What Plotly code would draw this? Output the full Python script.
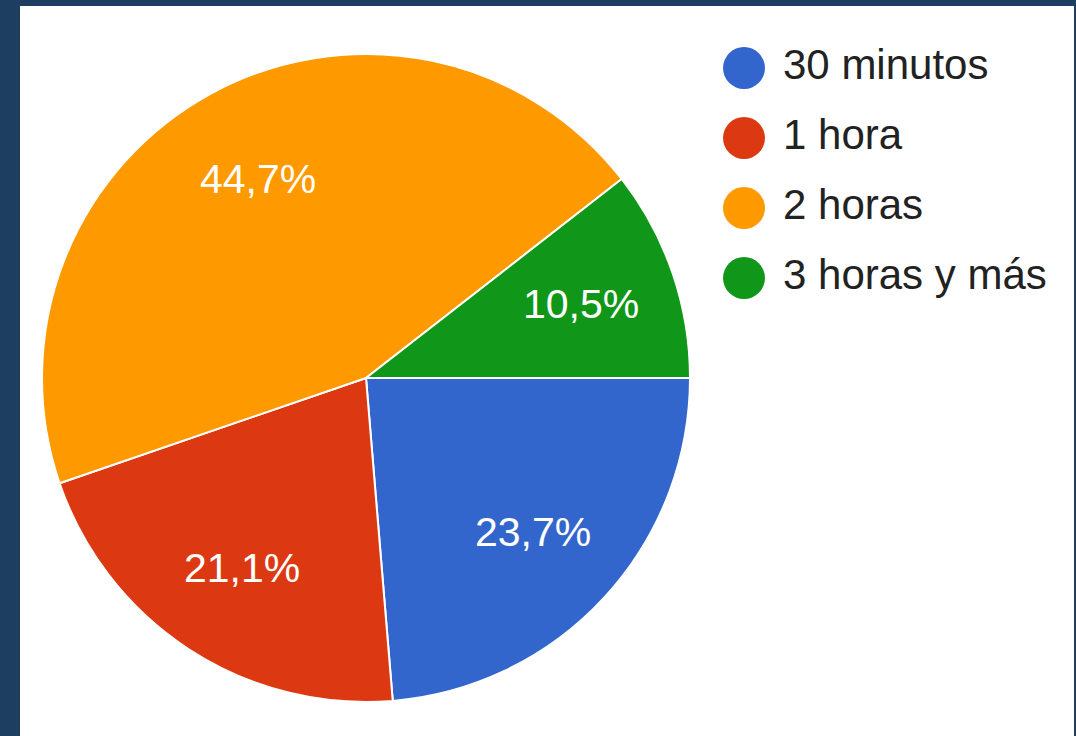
import math
import plotly.graph_objects as go

categories = ["30 minutos", "1 hora", "2 horas", "3 horas y más"]
counts = [9, 8, 17, 4]
colors = ["#3366cc", "#dc3912", "#ff9900", "#109618"]

W, H = 1076, 736
FONT = "Liberation Sans, Arial, sans-serif"

fig = go.Figure()

# pie centre (366, 378) px, radius 324 px
cx, cy, r = 366, 378, 324
fig.add_trace(go.Pie(
    labels=categories,
    values=counts,
    sort=False,
    direction="clockwise",
    rotation=90,
    marker=dict(colors=colors, line=dict(color="white", width=2)),
    textinfo="none",
    domain=dict(x=[(cx - r) / W, (cx + r) / W], y=[1 - (cy + r) / H, 1 - (cy - r) / H]),
    showlegend=False,
    hoverinfo="skip",
))

# slice labels at 70% of the radius, at each slice's mid-angle (derived from the data)
total = sum(counts)
annotations = []
cum = 0
for v in counts:
    mid = (cum + v / 2) / total * 2 * math.pi  # clockwise from 3 o'clock
    cum += v
    px = cx + 0.70 * r * math.cos(mid)
    py = cy + 0.70 * r * math.sin(mid)
    pct = f"{v / total * 100:.1f}%".replace(".", ",")
    annotations.append(dict(
        x=px / W, y=1 - py / H, xref="paper", yref="paper",
        text=pct, showarrow=False, xanchor="center", yanchor="middle",
        font=dict(color="white", size=41, family=FONT),
    ))

# custom legend: big circle markers + labels
idx = list(range(len(categories)))
fig.add_trace(go.Scatter(
    x=[744] * len(categories), y=idx, mode="markers",
    marker=dict(size=42, color=colors, line=dict(width=0)),
    showlegend=False, hoverinfo="skip", cliponaxis=False,
))
fig.add_trace(go.Scatter(
    x=[783] * len(categories), y=idx, mode="text",
    text=categories, textposition="middle right",
    textfont=dict(size=42, color="#222222", family=FONT),
    showlegend=False, hoverinfo="skip", cliponaxis=False,
))

fig.update_layout(
    width=W, height=H,
    margin=dict(l=0, r=0, t=0, b=0),
    paper_bgcolor="#1d3e60",
    plot_bgcolor="rgba(0,0,0,0)",
    separators=",.",
    hovermode=False,
    xaxis=dict(domain=[0, 1], range=[0, W], visible=False, fixedrange=True),
    yaxis=dict(domain=[1 - 313 / H, 1 - 33 / H], range=[3.5, -0.5], visible=False, fixedrange=True),
    annotations=annotations,
    shapes=[dict(type="rect", xref="paper", yref="paper", x0=20 / W, x1=1074 / W, y0=0, y1=1 - 6 / H,
                 fillcolor="white", line=dict(width=0), layer="below")],
)

fig.write_html("out.html", config={"displayModeBar": False},
               post_script="document.body.style.margin='0';document.body.style.background='#1d3e60';")
